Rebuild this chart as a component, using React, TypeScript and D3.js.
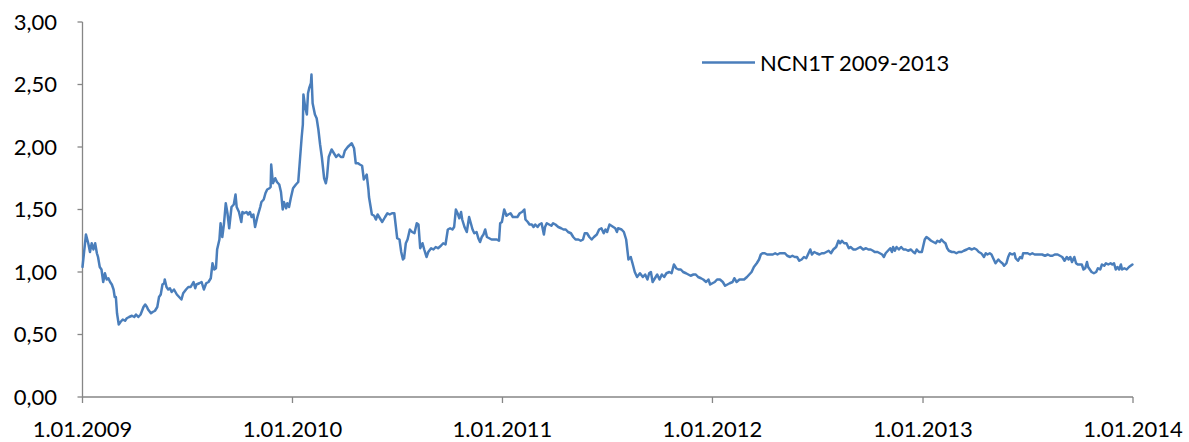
import React from "react";
import * as d3 from "d3";

const seriesName = "NCN1T 2009-2013";
const startDate = "2009-01-01";
const endDate = "2014-01-01";
const xTickLabels = ["1.01.2009", "1.01.2010", "1.01.2011", "1.01.2012", "1.01.2013", "1.01.2014"];
const yTickValues = [0, 0.5, 1, 1.5, 2, 2.5, 3];

// days since 1.01.2009
const dayOffsets = [
  0, 6, 10, 13, 16, 19, 22, 25, 27, 30, 33, 36, 39, 42, 45, 48, 51, 54, 56, 58, 60, 63, 66, 70, 74, 77, 81, 86, 90, 93,
  97, 101, 106, 109, 112, 114, 119, 122, 126, 130, 133, 136, 139, 142, 143, 146, 149, 152, 155, 159, 164, 168, 172, 175,
  180, 184, 188, 193, 196, 198, 203, 207, 211, 215, 219, 223, 226, 229, 232, 234, 238, 240, 243, 246, 249, 252, 255, 259,
  263, 266, 268, 272, 276, 278, 281, 285, 288, 291, 294, 297, 300, 304, 309, 311, 315, 318, 321, 325, 327, 328, 331, 335,
  338, 342, 345, 348, 350, 354, 356, 359, 362, 366, 371, 375, 378, 381, 383, 384, 387, 390, 392, 394, 397, 398, 400, 404,
  407, 410, 413, 416, 420, 423, 425, 428, 433, 437, 441, 445, 449, 453, 456,
  461, 468, 472, 475, 479, 482, 486, 489, 494, 497, 498, 503, 507, 510, 513, 517, 521, 526, 530, 534, 538, 542, 544, 547,
  551, 554, 557, 559, 562, 565, 569, 573, 577, 581, 584, 587, 591, 594, 598, 601, 606, 610, 614, 618, 623, 627, 631, 635,
  639, 643, 646, 649, 652, 655, 658, 660, 664, 668, 672, 675, 678, 681, 685, 688, 691, 694, 697, 700, 703, 707, 711, 716,
  720, 724, 726, 729, 733, 737, 740, 744, 748, 752, 756, 760, 764, 768, 770, 774, 777, 781, 784, 787, 791, 794, 798, 802,
  804, 807, 811, 815, 818, 822, 827, 832, 836, 840, 844, 849, 853, 857, 862, 866, 870, 873, 877, 881, 885, 889, 894, 898,
  902, 906, 909, 912, 916,
  926, 929, 931, 937, 941, 945, 949, 953, 956, 960, 964, 969, 974, 978, 982, 985, 988, 991, 995, 999, 1003, 1007, 1011,
  1015, 1020, 1024, 1028, 1032, 1036, 1040, 1044, 1049, 1053, 1057, 1062, 1066, 1070, 1075, 1079, 1084, 1088, 1091, 1095,
  1099, 1103, 1108, 1113, 1117, 1121, 1125, 1130, 1133, 1137, 1142, 1146, 1150, 1155, 1159, 1163, 1167, 1172, 1176, 1179,
  1182, 1186, 1190, 1195, 1200, 1204, 1208, 1212, 1217, 1221, 1225, 1230, 1234, 1238, 1242, 1246, 1250, 1254, 1258, 1262,
  1265, 1268, 1272, 1276, 1281, 1285, 1289, 1293, 1297, 1301, 1305, 1310, 1314, 1317, 1320, 1324, 1328, 1332, 1335, 1340,
  1344, 1348, 1352, 1357, 1362, 1366, 1370, 1374, 1377,
  1382, 1386, 1390, 1393, 1396, 1400, 1404, 1407, 1409, 1412, 1415, 1419, 1423, 1427, 1431, 1435, 1440, 1444, 1447, 1450,
  1454, 1459, 1461, 1464, 1467, 1470, 1475, 1479, 1483, 1486, 1490, 1493, 1497, 1500, 1503, 1506, 1511, 1515, 1519, 1523,
  1528, 1532, 1537, 1541, 1546, 1550, 1554, 1558, 1562, 1564, 1567, 1570, 1573, 1577, 1580, 1583, 1587, 1592, 1596, 1599,
  1602, 1606, 1609, 1612, 1616, 1620, 1622, 1626, 1630, 1633, 1635, 1639, 1643, 1647, 1651, 1655, 1660, 1664, 1668, 1673,
  1678, 1682, 1686, 1690, 1695, 1699, 1703, 1707, 1711, 1714, 1717, 1720, 1724, 1727, 1730, 1734, 1737, 1740, 1743, 1746,
  1748, 1751, 1754, 1758, 1762, 1765, 1769, 1772, 1776, 1779, 1783, 1787, 1790, 1793, 1796, 1799, 1802, 1805, 1807, 1811,
  1815, 1819, 1822, 1825,
];

const values = [
  1.04, 1.3, 1.23, 1.16, 1.23, 1.18, 1.23, 1.15, 1.12, 1.04, 1.02, 0.92, 0.99, 0.94, 0.95, 0.92, 0.9, 0.86, 0.8, 0.8, 0.67,
  0.58, 0.6, 0.62, 0.61, 0.63, 0.64, 0.65, 0.64, 0.66, 0.64, 0.66, 0.72, 0.74, 0.72, 0.7, 0.67, 0.68, 0.69, 0.72, 0.8, 0.82,
  0.9, 0.91, 0.94, 0.88, 0.86, 0.87, 0.84, 0.86, 0.82, 0.8, 0.78, 0.83, 0.86, 0.88, 0.88, 0.92, 0.87, 0.9, 0.91, 0.92, 0.86,
  0.91, 0.92, 0.95, 1.07, 1.02, 1.03, 1.18, 1.26, 1.39, 1.28, 1.39, 1.55, 1.47, 1.35, 1.52, 1.54, 1.62, 1.52, 1.48, 1.4,
  1.48, 1.47, 1.48, 1.46, 1.48, 1.44, 1.46, 1.36, 1.44, 1.52, 1.56, 1.58, 1.63, 1.66, 1.67, 1.68, 1.86, 1.71, 1.75, 1.72,
  1.7, 1.64, 1.5, 1.56, 1.51, 1.55, 1.52, 1.59, 1.67, 1.7, 1.72, 1.9, 2.08, 2.18, 2.42, 2.32, 2.26, 2.43, 2.47, 2.51, 2.58,
  2.35, 2.26, 2.23, 2.14, 2.02, 1.92, 1.75, 1.71, 1.76, 1.92, 1.98, 1.95, 1.92, 1.94, 1.92, 1.92, 1.97,
  2.0, 2.03, 1.99, 1.87, 1.87, 1.86, 1.85, 1.74, 1.78, 1.66, 1.6, 1.46, 1.45, 1.42, 1.46, 1.43, 1.4, 1.44, 1.47, 1.46, 1.47,
  1.47, 1.39, 1.27, 1.26, 1.16, 1.1, 1.11, 1.23, 1.26, 1.34, 1.32, 1.31, 1.39, 1.38, 1.19, 1.23, 1.18, 1.12, 1.16, 1.19,
  1.18, 1.2, 1.19, 1.21, 1.23, 1.22, 1.34, 1.35, 1.34, 1.36, 1.5, 1.47, 1.43, 1.48, 1.42, 1.36, 1.32, 1.44, 1.39, 1.34,
  1.31, 1.32, 1.27, 1.24, 1.28, 1.3, 1.34, 1.28, 1.27, 1.26, 1.26, 1.26, 1.25, 1.39, 1.4, 1.5, 1.45, 1.46, 1.47, 1.44, 1.44,
  1.44, 1.47, 1.48, 1.5, 1.42, 1.4, 1.38, 1.38, 1.36, 1.38, 1.36, 1.38, 1.39, 1.3, 1.36, 1.39, 1.38, 1.37, 1.39, 1.38,
  1.36, 1.35, 1.34, 1.34, 1.32, 1.31, 1.28, 1.26, 1.26, 1.25, 1.26, 1.31, 1.31, 1.28, 1.26, 1.28, 1.3, 1.34, 1.35, 1.31,
  1.34, 1.32, 1.38,
  1.35, 1.32, 1.35, 1.34, 1.32, 1.26, 1.1, 1.12, 1.07, 1.0, 0.96, 0.99, 0.96, 0.98, 0.94, 0.99, 1.0, 0.92, 0.95, 0.98, 0.94,
  0.98, 0.96, 0.99, 1.0, 0.99, 1.06, 1.03, 1.02, 1.02, 1.0, 0.99, 0.98, 0.97, 0.98, 0.98, 0.96, 0.95, 0.94, 0.92, 0.94, 0.9,
  0.91, 0.92, 0.94, 0.94, 0.92, 0.89, 0.9, 0.91, 0.92, 0.95, 0.92, 0.94, 0.94, 0.94, 0.96, 0.98, 1.0, 1.04, 1.07, 1.1, 1.14,
  1.15, 1.15, 1.14, 1.14, 1.14, 1.15, 1.14, 1.15, 1.15, 1.15, 1.13, 1.12, 1.13, 1.12, 1.12, 1.09, 1.1, 1.12, 1.11, 1.15,
  1.18, 1.14, 1.16, 1.15, 1.14, 1.15, 1.15, 1.16, 1.17, 1.15, 1.18, 1.2, 1.25, 1.23, 1.25, 1.23, 1.23, 1.19, 1.2, 1.18,
  1.18, 1.19, 1.2, 1.18, 1.19, 1.18, 1.18, 1.17, 1.16,
  1.16, 1.15, 1.14, 1.12, 1.15, 1.17, 1.19, 1.16, 1.2, 1.17, 1.2, 1.18, 1.2, 1.18, 1.18, 1.17, 1.18, 1.16, 1.15, 1.18,
  1.16, 1.16, 1.2, 1.26, 1.28, 1.27, 1.25, 1.24, 1.23, 1.25, 1.24, 1.26, 1.24, 1.23, 1.19, 1.17, 1.16, 1.16, 1.15, 1.16,
  1.16, 1.17, 1.18, 1.19, 1.18, 1.19, 1.18, 1.16, 1.15, 1.14, 1.12, 1.15, 1.14, 1.15, 1.14, 1.11, 1.07, 1.1, 1.08, 1.07,
  1.05, 1.07, 1.12, 1.15, 1.14, 1.15, 1.11, 1.09, 1.12, 1.11, 1.15, 1.15, 1.15, 1.14, 1.15, 1.14, 1.14, 1.14, 1.14, 1.13,
  1.14, 1.13, 1.13, 1.14, 1.14, 1.13, 1.12, 1.09, 1.12, 1.1, 1.12, 1.08, 1.12, 1.07, 1.06, 1.06, 1.06, 1.02, 1.03, 1.08,
  1.04, 1.02, 1.0, 0.99, 1.0, 1.03, 1.02, 1.06, 1.05, 1.07, 1.06, 1.07, 1.06, 1.07, 1.02, 1.04, 1.02, 1.06, 1.02, 1.03,
  1.02, 1.04, 1.05, 1.06,
];

const W = 1189;
const H = 442;
const margin = { left: 82.5, right: 56, top: 22, bottom: 45 };
const FONT = "Lato, 'Open Sans', sans-serif";
const AXIS = "#868686";
const LINE = "#4A7EBB";

export default function App() {
  const t0 = new Date(startDate + "T00:00:00");
  const t1 = new Date(endDate + "T00:00:00");
  const x = d3.scaleTime().domain([t0, t1]).range([margin.left, W - margin.right]);
  const y = d3.scaleLinear().domain([0, 3]).range([H - margin.bottom, margin.top]);

  const data = dayOffsets.map((d, i) => ({ date: d3.timeDay.offset(t0, d), value: values[i] }));
  const line = d3
    .line<{ date: Date; value: number }>()
    .x((d) => x(d.date))
    .y((d) => y(d.value));

  const yearTicks = d3.timeYear.range(t0, d3.timeDay.offset(t1, 1));
  const fmt = (v: number) => v.toFixed(2).replace(".", ",");
  const y0 = y(0);

  return (
    <svg
      width={W}
      height={H}
      style={{ position: "absolute", left: 0, top: 0, background: "#fff" }}
      fontFamily={FONT}
    >
      {/* y axis */}
      <line x1={margin.left} x2={margin.left} y1={y(3)} y2={y0} stroke={AXIS} strokeWidth={1.3} />
      {yTickValues.map((v) => (
        <g key={v}>
          <line x1={margin.left - 5} x2={margin.left} y1={y(v)} y2={y(v)} stroke={AXIS} strokeWidth={1.3} />
          <text x={57} y={y(v)} dy="0.36em" textAnchor="end" fontSize={22} fill="#000">
            {fmt(v)}
          </text>
        </g>
      ))}
      {/* x axis */}
      <line x1={margin.left} x2={x(t1)} y1={y0} y2={y0} stroke={AXIS} strokeWidth={1.3} />
      {yearTicks.map((d, i) => (
        <g key={i}>
          <line x1={x(d)} x2={x(d)} y1={y0} y2={y0 + 6} stroke={AXIS} strokeWidth={1.3} />
          <text x={x(d)} y={437} textAnchor="middle" fontSize={22} fill="#000">
            {xTickLabels[i]}
          </text>
        </g>
      ))}
      {/* series */}
      <path d={line(data) || ""} fill="none" stroke={LINE} strokeWidth={2.5} strokeLinejoin="round" strokeLinecap="round" />
      {/* legend */}
      <line x1={702} x2={755} y1={62.5} y2={62.5} stroke={LINE} strokeWidth={2.5} />
      <text x={760} y={70.5} fontSize={22} fill="#000">
        {seriesName}
      </text>
    </svg>
  );
}
